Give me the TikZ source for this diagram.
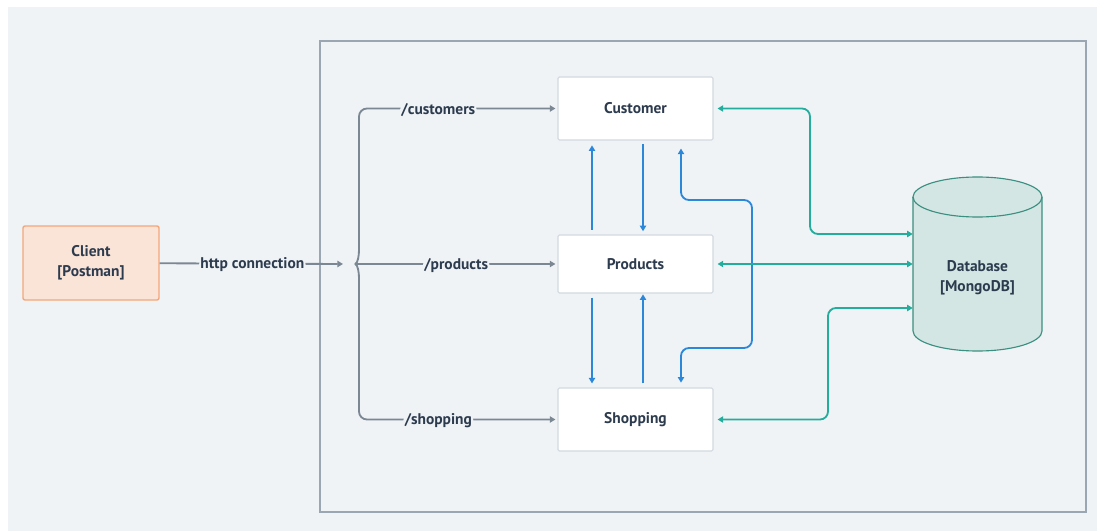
\documentclass[tikz,border=0pt]{standalone}
\usepackage{fontspec}
\setmainfont{PT Sans}
\usetikzlibrary{arrows.meta,calc}

\definecolor{bgcol}{HTML}{EFF3F6}
\definecolor{framecol}{HTML}{9AA6B2}
\definecolor{greyline}{HTML}{7B8793}
\definecolor{txtcol}{HTML}{2D3B4E}
\definecolor{clientfill}{HTML}{FAE3D7}
\definecolor{clientdraw}{HTML}{F4A77A}
\definecolor{boxdraw}{HTML}{D2D9E0}
\definecolor{blueline}{HTML}{2B87D9}
\definecolor{tealline}{HTML}{22AD9C}
\definecolor{dbfill}{HTML}{D3E6E3}
\definecolor{dbdraw}{HTML}{3A8F80}

\tikzset{
  every node/.style={font=\fontsize{11}{14.5}\selectfont\bfseries, text=txtcol, align=center},
  service/.style={draw=boxdraw, fill=white, line width=0.8pt, rounded corners=1pt,
    minimum width=3.875cm, minimum height=1.575cm},
  client/.style={draw=clientdraw, fill=clientfill, line width=1pt, rounded corners=1.5pt,
    minimum width=3.4cm, minimum height=1.85cm},
  lbl/.style={fill=bgcol, inner sep=1pt, yshift=-1pt},
  tip/.style={-{Triangle[length=4pt,width=4.5pt]}},
  gline/.style={draw=greyline, line width=1.3pt, rounded corners=0.2cm, tip, shorten >=0.05cm},
  bline/.style={draw=blueline, line width=1.3pt, rounded corners=0.2cm, tip},
  tline/.style={draw=tealline, line width=1.3pt, rounded corners=0.2cm,
    {Triangle[length=4pt,width=4.5pt]}-{Triangle[length=4pt,width=4.5pt]}, shorten <=0.1cm},
}

\begin{document}
\begin{tikzpicture}[x=0.025cm, y=-0.025cm]
\useasboundingbox (0,0) rectangle (1097,531);
\fill[bgcol] (8,7) rectangle (1097,531);

% system boundary
\draw[framecol, line width=1pt] (320,41) rectangle (1086,512);

% client and services
\node[client] (client) at (91,263) {Client\\{}[Postman]};
\node[service] (customer) at (635.5,108.5) {Customer};
\node[service, minimum height=1.45cm] (products) at (635.5,264) {Products};
\node[service] (shopping) at (635.5,419.5) {Shopping};

% database cylinder
\filldraw[fill=dbfill, draw=dbdraw, line width=0.8pt] (913,197) -- (913,331)
  arc[start angle=180, end angle=360, x radius=1.6125cm, y radius=0.5cm] -- (1042,197)
  arc[start angle=0, end angle=180, x radius=1.6125cm, y radius=0.5cm] -- cycle;
\draw[dbdraw, line width=0.8pt] (913,197)
  arc[start angle=180, end angle=360, x radius=1.6125cm, y radius=0.5cm];
\node[minimum width=3.225cm] (db) at (977.5,278) {Database\\{}[MongoDB]};

% http routing
\coordinate (fork) at (355,264);
\draw[gline] (client) -- node[lbl]{http connection} ($(fork)+(-10,0)$);
\draw[gline] (fork) to[out=0,in=90] ++(4,-6) |- node[lbl,pos=0.7]{/customers} (customer.west);
\draw[gline] (fork) -- node[lbl]{/products} (products.west);
\draw[gline] (fork) to[out=0,in=-90] ++(4,6) |- node[lbl,pos=0.7]{/shopping} (shopping.west);

% service to service
\draw[bline, shorten <=0.12cm, shorten >=0.12cm] ($(products.north)+(-43.5,0)$) -- ($(customer.south)+(-43.5,0)$);
\draw[bline, shorten <=0.08cm, shorten >=0.08cm] ($(customer.south)+(7.5,0)$) -- ($(products.north)+(7.5,0)$);
\draw[bline, shorten <=0.1cm, shorten >=0.1cm] ($(products.south)+(-43.5,0)$) -- ($(shopping.north)+(-43.5,0)$);
\draw[bline, shorten <=0.1cm, shorten >=0.02cm] ($(shopping.north)+(7.5,0)$) -- ($(products.south)+(7.5,0)$);
\draw[bline, {Triangle[length=4pt,width=4.5pt]}-{Triangle[length=4pt,width=4.5pt]}, shorten <=0.2cm, shorten >=0.12cm]
  ($(customer.south)+(45.5,0)$) |- (752,200) -- (752,348) -| ($(shopping.north)+(45.5,0)$);

% services to database
\draw[tline] (customer.east) -| (810,234) -- ($(db.west)+(0,-44)$);
\draw[tline] (products.east) -- ($(db.west)+(0,-14)$);
\draw[tline] (shopping.east) -| (828,308) -- ($(db.west)+(0,30)$);
\end{tikzpicture}
\end{document}
